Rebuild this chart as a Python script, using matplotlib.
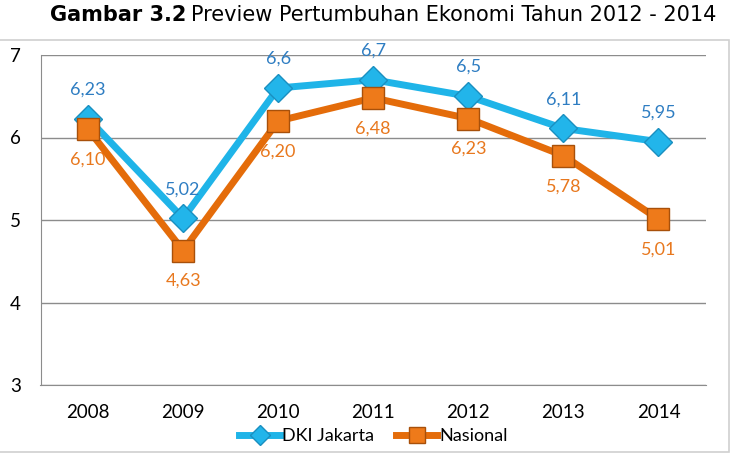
import matplotlib.pyplot as plt
from matplotlib.patches import Rectangle

years = ["2008", "2009", "2010", "2011", "2012", "2013", "2014"]
dki = [6.23, 5.02, 6.6, 6.7, 6.5, 6.11, 5.95]
nasional = [6.10, 4.63, 6.20, 6.48, 6.23, 5.78, 5.01]
dki_labels = ["6,23", "5,02", "6,6", "6,7", "6,5", "6,11", "5,95"]
nas_labels = ["6,10", "4,63", "6,20", "6,48", "6,23", "5,78", "5,01"]

blue_line = "#1FB4E8"
blue_text = "#2E7DC2"
orange_line = "#E46C0A"
orange_text = "#E8781E"

plt.rcParams["font.family"] = ["Lato", "DejaVu Sans"]

fig = plt.figure(figsize=(7.35, 4.54), dpi=100)
ax = fig.add_axes([40.5 / 735, 1 - 385 / 454, 665.5 / 735, 330 / 454])

x = list(range(len(years)))
ax.plot(x, dki, color=blue_line, lw=5, marker="D", ms=14, mfc="#22B5EA",
        mec="#1A8FC0", mew=1, label="DKI Jakarta", zorder=3)
ax.plot(x, nasional, color=orange_line, lw=5, marker="s", ms=16.5, mfc="#EE7A1A",
        mec="#A8500A", mew=1, label="Nasional", zorder=4)

for xi, v, t in zip(x, dki, dki_labels):
    ax.annotate(t, (xi, v), xytext=(0, 21), textcoords="offset points",
                ha="center", va="center", color=blue_text, fontsize=13)
for xi, v, t in zip(x, nasional, nas_labels):
    ax.annotate(t, (xi, v), xytext=(0, -22), textcoords="offset points",
                ha="center", va="center", color=orange_text, fontsize=13)

ax.set_xlim(-0.5, 6.5)
ax.set_ylim(3, 7)
ax.set_yticks([3, 4, 5, 6, 7])
ax.set_xticks(x)
ax.set_xticklabels(years)
ax.grid(axis="y", color="#8C8C8C", lw=1)
ax.set_axisbelow(True)
for s in ["top", "right"]:
    ax.spines[s].set_visible(False)
ax.spines["left"].set_color("#8C8C8C")
ax.spines["bottom"].set_color("#8C8C8C")
ax.tick_params(length=0, labelsize=13.5, colors="black")
ax.tick_params(axis="y", pad=14)
ax.tick_params(axis="x", pad=14)

ax.legend(loc="center", bbox_to_anchor=(0.5, -51 / 330), ncol=2, frameon=False,
          fontsize=13, handlelength=2.3, columnspacing=1.2, handletextpad=0.1,
          markerscale=0.7)

fig.add_artist(Rectangle((-5 / 735, 2 / 454), 734 / 735, 412 / 454, transform=fig.transFigure,
                         fill=False, ec="#D0D0D0", lw=1.2))

t1 = fig.text(50 / 735, 1 - 15 / 454, "Gambar 3.2", fontsize=15, fontweight="bold",
              family="DejaVu Sans", va="center", ha="left")
fig.canvas.draw()
bb = t1.get_window_extent()
fig.text((bb.x1 + 5) / 735, 1 - 15 / 454, "Preview Pertumbuhan Ekonomi Tahun 2012 - 2014",
         fontsize=15, family="DejaVu Sans", va="center", ha="left")

fig.savefig("out.png", dpi=100)
